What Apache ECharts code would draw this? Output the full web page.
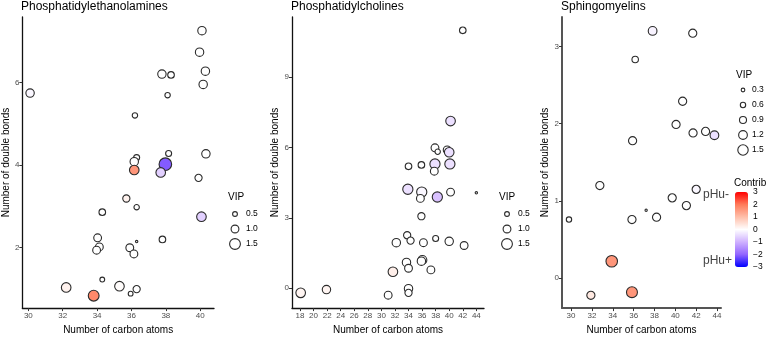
<!DOCTYPE html>
<html>
<head>
<meta charset="utf-8">
<script src="https://cdn.jsdelivr.net/npm/echarts@6/dist/echarts.min.js"></script>
<style>
html,body{margin:0;padding:0;background:#fff}
#main{width:768px;height:340px}
</style>
</head>
<body>
<div id="main"></div>
<script>
// Phosphatidylethanolamines
var peCarbons  = [30.1, 40.1, 39.96, 37.77, 38.3, 40.3, 40.17, 38.1, 36.2, 40.33, 38.16, 36.3, 36.16, 37.97, 36.16, 37.7, 39.9, 35.7, 36.3, 34.3, 40.07, 34.03, 37.8, 36.3, 34.13, 33.97, 35.9, 36.14, 34.3, 32.2, 35.3, 36.3, 35.95, 33.8];
var peBonds    = [5.74, 7.25, 6.73, 6.2, 6.18, 6.27, 5.95, 5.69, 5.2, 4.27, 4.28, 4.18, 4.08, 4.02, 3.88, 3.82, 3.69, 3.19, 2.98, 2.86, 2.75, 2.24, 2.2, 2.15, 2.02, 1.94, 2.0, 1.85, 1.23, 1.04, 1.07, 1.0, 0.89, 0.84];
var peVip      = [1.1, 1.1, 1.1, 1.1, 0.8, 1.1, 1.1, 0.6, 0.6, 1.1, 0.7, 0.7, 1.1, 1.8, 1.3, 1.3, 0.9, 0.9, 0.6, 0.8, 1.3, 1.0, 0.8, 0.1, 1.0, 1.0, 1.0, 1.0, 0.5, 1.3, 1.3, 0.9, 0.5, 1.5];
var peContrib  = [-0.1, 0, 0, 0, 0, 0, 0, 0, 0, 0, 0, 0, 0, -2.1, 1.6, -0.6, 0, 0.2, 0, 0, -0.6, 0, 0, 0, 0, 0, 0, 0, 0, 0.2, 0.05, 0, 0, 1.8];

// Phosphatidylcholines
var pcCarbons  = [42.0, 40.2, 37.9, 38.3, 39.7, 40.0, 37.9, 40.1, 34.0, 35.9, 37.8, 33.9, 35.95, 35.75, 38.25, 40.2, 44.0, 35.9, 33.8, 34.3, 32.2, 36.2, 38.0, 40.0, 42.2, 33.7, 36.04, 35.9, 34.0, 37.3, 31.7, 34.0, 34.0, 31.0, 18.1, 21.9];
var pcBonds    = [11.0, 7.13, 5.99, 5.82, 5.9, 5.8, 5.3, 5.3, 5.2, 5.26, 4.99, 4.22, 4.1, 3.83, 3.89, 4.1, 4.07, 3.07, 2.26, 2.03, 1.94, 1.94, 2.12, 2.0, 1.82, 1.1, 1.2, 1.15, 0.85, 0.78, 0.7, -0.02, -0.2, -0.3, -0.2, -0.06];
var pcVip      = [0.8, 1.3, 1.0, 0.6, 1.0, 1.3, 1.4, 1.4, 0.8, 0.8, 1.0, 1.4, 1.4, 1.0, 1.4, 1.0, 0.1, 0.9, 0.9, 0.9, 1.1, 1.0, 0.7, 1.1, 1.0, 1.1, 1.2, 1.1, 1.0, 1.0, 1.3, 1.1, 0.9, 1.0, 1.3, 1.1];
var pcContrib  = [0, -0.4, 0, 0, 0, -0.4, -0.4, -0.4, 0, 0, 0, -0.4, -0.1, 0, -0.8, 0, 0, 0, 0, 0, 0, 0, 0, 0, 0, 0, 0, 0, 0, 0, 0.25, 0, 0, 0, 0.15, 0.15];

// Sphingomyelins
var smCarbons  = [37.82, 41.67, 36.15, 40.7, 40.07, 41.7, 42.9, 43.75, 35.9, 32.76, 29.8, 35.84, 37.2, 38.2, 39.7, 41.06, 42.0, 33.9, 35.84, 31.9];
var smBonds    = [3.2, 3.17, 2.83, 2.29, 1.99, 1.88, 1.9, 1.85, 1.78, 1.2, 0.76, 0.76, 0.88, 0.79, 1.04, 0.94, 1.15, 0.22, -0.18, -0.22];
var smVip      = [1.2, 1.1, 0.8, 1.1, 1.1, 1.1, 1.1, 1.2, 1.1, 1.1, 0.6, 1.1, 0.05, 1.1, 1.1, 1.1, 1.1, 1.7, 1.6, 1.1];
var smContrib  = [-0.15, 0, 0, 0, 0, 0, 0, -0.4, 0, 0, 0, 0, 0, 0, 0, 0, -0.1, 1.6, 1.6, 0.35];

var peXTicks = [30, 32, 34, 36, 38, 40];
var peYTicks = [2, 4, 6];
var pcXTicks = [18, 20, 22, 24, 26, 28, 30, 32, 34, 36, 38, 40, 42, 44];
var pcYTicks = [0, 3, 6, 9];
var smXTicks = [30, 32, 34, 36, 38, 40, 42, 44];
var smYTicks = [0, 1, 2, 3];

var peVipBreaks = [0.5, 1.0, 1.5];
var smVipBreaks = [0.3, 0.6, 0.9, 1.2, 1.5];
var contribTicks = [3, 2, 1, 0, -1, -2, -3];

function peSize(v){ return 1.8 + 6 * v; }
function smSize(v){ return 2 + 5.6 * v; }

function rows(xs, ys, vs, cs){
    return xs.map(function(x, i){ return [x, ys[i], vs[i], cs[i]]; });
}

var FONT = 'Liberation Sans, Arial, sans-serif';

function makeX(idx, min, max, ticks, axisColor, lw){
    return {
        gridIndex: idx, type: 'value', min: min, max: max,
        name: 'Number of carbon atoms', nameLocation: 'middle', nameGap: 12,
        nameTextStyle: {fontSize: 10, color: '#000', fontFamily: FONT},
        axisLine: {show: true, onZero: false, lineStyle: {color: axisColor, width: lw}},
        axisTick: {show: true, length: 3, customValues: ticks, lineStyle: {color: '#333'}},
        axisLabel: {customValues: ticks, fontSize: 8, color: '#4d4d4d', margin: 4, fontFamily: FONT},
        splitLine: {show: false}
    };
}
function makeY(idx, min, max, ticks, axisColor, lw){
    return {
        gridIndex: idx, type: 'value', min: min, max: max,
        name: 'Number of double bonds', nameLocation: 'middle', nameGap: 11,
        nameTextStyle: {fontSize: 10, color: '#000', fontFamily: FONT},
        axisLine: {show: true, onZero: false, lineStyle: {color: axisColor, width: lw}},
        axisTick: {show: true, length: 3, customValues: ticks, lineStyle: {color: '#333'}},
        axisLabel: {customValues: ticks, fontSize: 8, color: '#4d4d4d', margin: 3, fontFamily: FONT},
        splitLine: {show: false}
    };
}

function scatter(idx, data, sizeFn){
    return {
        type: 'scatter', xAxisIndex: idx, yAxisIndex: idx,
        data: data,
        symbolSize: function(d){ return sizeFn(d[2]); },
        itemStyle: {borderColor: '#2b2b2b', borderWidth: 1.1, opacity: 1},
        emphasis: {disabled: true}
    };
}

// size legends and colorbar labels
var graphic = [];
function vipLegend(x, y, breaks, sizeFn, cx, tx, ys){
    graphic.push({type: 'text', x: x, y: y, style: {text: 'VIP', font: '10px ' + FONT, fill: '#000', verticalAlign: 'middle'}});
    breaks.forEach(function(b, i){
        graphic.push({type: 'circle', shape: {cx: cx, cy: ys[i], r: sizeFn(b) / 2},
            style: {fill: '#fff', stroke: '#2b2b2b', lineWidth: 1.1}});
        graphic.push({type: 'text', x: tx, y: ys[i], style: {text: b.toFixed(1), font: '8.5px ' + FONT, fill: '#000', verticalAlign: 'middle'}});
    });
}
vipLegend(228, 197, peVipBreaks, peSize, 235, 246, [214, 229, 244]);
vipLegend(499, 197, peVipBreaks, peSize, 507, 518, [214, 229, 244]);
vipLegend(736, 75, smVipBreaks, smSize, 743, 752, [90, 105, 120, 135, 150]);

var barTop = 192, barH = 75;
graphic.push({type: 'text', x: 734, y: 183, style: {text: 'Contrib', font: '10px ' + FONT, fill: '#000', verticalAlign: 'middle'}});
contribTicks.forEach(function(t){
    graphic.push({type: 'text', x: 753, y: barTop + (3 - t) / 6 * barH,
        style: {text: t < 0 ? '\u2212' + Math.abs(t) : String(t), font: '8.5px ' + FONT, fill: '#000', verticalAlign: 'middle'}});
});
graphic.push({type: 'text', x: 703, y: 195, style: {text: 'pHu-', font: '12px ' + FONT, fill: '#444', verticalAlign: 'middle'}});
graphic.push({type: 'text', x: 703, y: 261, style: {text: 'pHu+', font: '12px ' + FONT, fill: '#444', verticalAlign: 'middle'}});

var myChart = echarts.init(document.getElementById('main'));
myChart.setOption({
    animation: false,
    textStyle: {fontFamily: FONT},
    title: [
        {text: 'Phosphatidylethanolamines', left: 21, top: 1, padding: 0, textStyle: {fontSize: 12, fontWeight: 'normal', color: '#000'}},
        {text: 'Phosphatidylcholines', left: 291, top: 1, padding: 0, textStyle: {fontSize: 12, fontWeight: 'normal', color: '#000'}},
        {text: 'Sphingomyelins', left: 561, top: 1, padding: 0, textStyle: {fontSize: 12, fontWeight: 'normal', color: '#000'}}
    ],
    grid: [
        {left: 22, top: 17, width: 192, height: 299},
        {left: 292, top: 17, width: 192, height: 300},
        {left: 562, top: 17, width: 159, height: 300}
    ],
    xAxis: [
        makeX(0, 29.65, 40.8, peXTicks, '#111', 1.3),
        makeX(1, 16.82, 45.13, pcXTicks, '#111', 1.3),
        makeX(2, 29.13, 44.38, smXTicks, '#555', 2)
    ],
    yAxis: [
        makeY(0, 0.54, 7.58, peYTicks, '#111', 1.3),
        makeY(1, -0.85, 11.57, pcYTicks, '#111', 1.3),
        makeY(2, -0.386, 3.38, smYTicks, '#555', 2)
    ],
    visualMap: {
        type: 'continuous', min: -3, max: 3, dimension: 3, seriesIndex: [0, 1, 2],
        calculable: false, left: 735, top: barTop, itemWidth: 13, itemHeight: barH, padding: 0,
        inRange: {color: ['#0000FF', '#9265FF', '#CFB1FF', '#FFFFFF', '#FFBFAA', '#FF7B5A', '#FF0000']}
    },
    graphic: graphic,
    series: [
        scatter(0, rows(peCarbons, peBonds, peVip, peContrib), peSize),
        scatter(1, rows(pcCarbons, pcBonds, pcVip, pcContrib), peSize),
        scatter(2, rows(smCarbons, smBonds, smVip, smContrib), smSize)
    ]
});
window.addEventListener('resize', function(){ myChart.resize(); });
</script>
</body>
</html>
